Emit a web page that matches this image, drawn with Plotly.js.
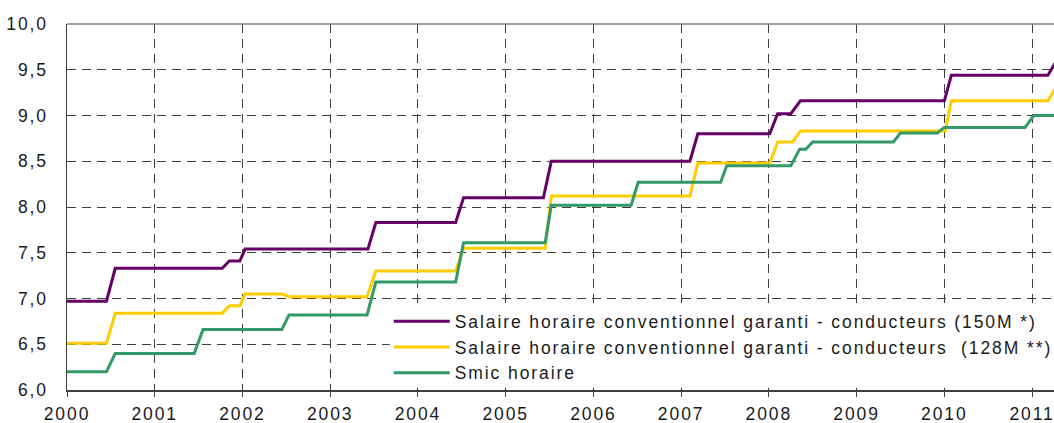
<!DOCTYPE html>
<html>
<head>
<meta charset="utf-8">
<script src="https://cdn.plot.ly/plotly-3.0.1.min.js"></script>
<style>
  html, body { margin: 0; padding: 0; background: #fff; }
  #chart { width: 1054px; height: 423px; }
  .xtick text, .ytick text, text.legendtext { letter-spacing: 1.9px; }
</style>
</head>
<body>
<div id="chart"></div>
<script>
// Tick labels
const yearTicks = [2000, 2001, 2002, 2003, 2004, 2005, 2006, 2007, 2008, 2009, 2010, 2011];
const yearLabels = ["2000", "2001", "2002", "2003", "2004", "2005", "2006", "2007", "2008", "2009", "2010", "2011"];

// Series names
const name150 = "Salaire horaire conventionnel garanti - conducteurs (150M *)";
const name128 = "Salaire horaire conventionnel garanti - conducteurs  (128M **)";
const nameSmic = "Smic horaire";

// Salaire horaire conventionnel garanti - conducteurs (150M)
const x150 = [2000.0, 2000.45, 2000.55, 2001.77, 2001.85, 2001.97, 2002.03, 2003.43, 2003.52, 2004.43, 2004.52, 2005.43, 2005.52, 2007.10, 2007.19, 2008.01, 2008.10, 2008.25, 2008.36, 2010.00, 2010.08, 2011.18, 2011.28];
const y150 = [6.97, 6.97, 7.33, 7.33, 7.41, 7.41, 7.54, 7.54, 7.83, 7.83, 8.10, 8.10, 8.50, 8.50, 8.80, 8.80, 9.02, 9.02, 9.16, 9.16, 9.44, 9.44, 9.60];

// Salaire horaire conventionnel garanti - conducteurs (128M)
const x128 = [2000.0, 2000.45, 2000.55, 2001.77, 2001.85, 2001.97, 2002.03, 2002.45, 2002.53, 2003.42, 2003.52, 2004.43, 2004.52, 2005.45, 2005.52, 2007.10, 2007.19, 2008.01, 2008.10, 2008.27, 2008.36, 2010.01, 2010.08, 2011.18, 2011.28];
const y128 = [6.51, 6.51, 6.84, 6.84, 6.92, 6.92, 7.05, 7.05, 7.02, 7.02, 7.30, 7.30, 7.55, 7.55, 8.12, 8.12, 8.48, 8.48, 8.71, 8.71, 8.83, 8.83, 9.16, 9.16, 9.32];

// Smic horaire
const xSmic = [2000.0, 2000.45, 2000.55, 2001.45, 2001.55, 2002.45, 2002.53, 2003.42, 2003.52, 2004.43, 2004.52, 2005.45, 2005.52, 2006.43, 2006.51, 2007.45, 2007.52, 2008.25, 2008.35, 2008.42, 2008.50, 2009.42, 2009.50, 2009.92, 2010.00, 2010.92, 2011.02, 2011.30];
const ySmic = [6.20, 6.20, 6.40, 6.40, 6.66, 6.66, 6.82, 6.82, 7.18, 7.18, 7.61, 7.61, 8.02, 8.02, 8.27, 8.27, 8.45, 8.45, 8.63, 8.63, 8.71, 8.71, 8.81, 8.81, 8.87, 8.87, 9.00, 9.00];

const colors = { p150: "#660066", p128: "#FFCC00", smic: "#339966" };

const traces = [
  { x: x150, y: y150, name: name150, type: "scatter", mode: "lines", line: { color: colors.p150, width: 3 } },
  { x: x128, y: y128, name: name128, type: "scatter", mode: "lines", line: { color: colors.p128, width: 3 } },
  { x: xSmic, y: ySmic, name: nameSmic, type: "scatter", mode: "lines", line: { color: colors.smic, width: 3 } }
];

const fontFam = "Liberation Sans, Arial, sans-serif";
const fs = 17.5;

const layout = {
  width: 1054,
  height: 423,
  margin: { l: 67, r: 0, t: 24, b: 33, pad: 0, autoexpand: false },
  paper_bgcolor: "#ffffff",
  plot_bgcolor: "#ffffff",
  separators: ", ",
  showlegend: true,
  font: { family: fontFam, size: fs, color: "#1a1a1a" },
  xaxis: {
    range: [2000, 2011.25],
    automargin: false,
    ticklabeloverflow: "allow",
    tickvals: yearTicks,
    ticktext: yearLabels,
    showgrid: true,
    gridcolor: "#3d3d3d",
    gridwidth: 1,
    griddash: "9px,6px",
    zeroline: false,
    showline: true,
    linecolor: "#404040",
    linewidth: 1.5,
    ticks: "outside",
    ticklen: 5,
    tickcolor: "#404040",
    ticklabelstandoff: 2,
    tickfont: { family: fontFam, size: fs, color: "#1a1a1a" }
  },
  yaxis: {
    range: [6, 10],
    automargin: false,
    ticklabeloverflow: "allow",
    dtick: 0.5,
    tick0: 6,
    tickformat: ".1f",
    showgrid: true,
    gridcolor: "#3d3d3d",
    gridwidth: 1,
    griddash: "9px,6px",
    zeroline: false,
    showline: true,
    linecolor: "#404040",
    linewidth: 1.5,
    ticks: "",
    ticklabelstandoff: 14,
    tickfont: { family: fontFam, size: fs, color: "#1a1a1a" }
  },
  shapes: [
    { type: "line", xref: "paper", yref: "paper", x0: 0, x1: 1, y0: 1, y1: 1, line: { color: "#808080", width: 1.5 } },
    { type: "rect", xref: "paper", yref: "paper", layer: "above", x0: 0.327, x1: 1, y0: 0.006, y1: 0.238, fillcolor: "#ffffff", line: { width: 0 } }
  ],
  legend: {
    x: 0.326,
    xanchor: "left",
    y: 0.237,
    yanchor: "top",
    bgcolor: "rgba(255,255,255,0)",
    borderwidth: 0,
    itemwidth: 56,
    font: { family: fontFam, size: fs, color: "#1a1a1a" },
    tracegroupgap: 0
  }
};

Plotly.newPlot("chart", traces, layout, { displayModeBar: false, staticPlot: true });
</script>
</body>
</html>
